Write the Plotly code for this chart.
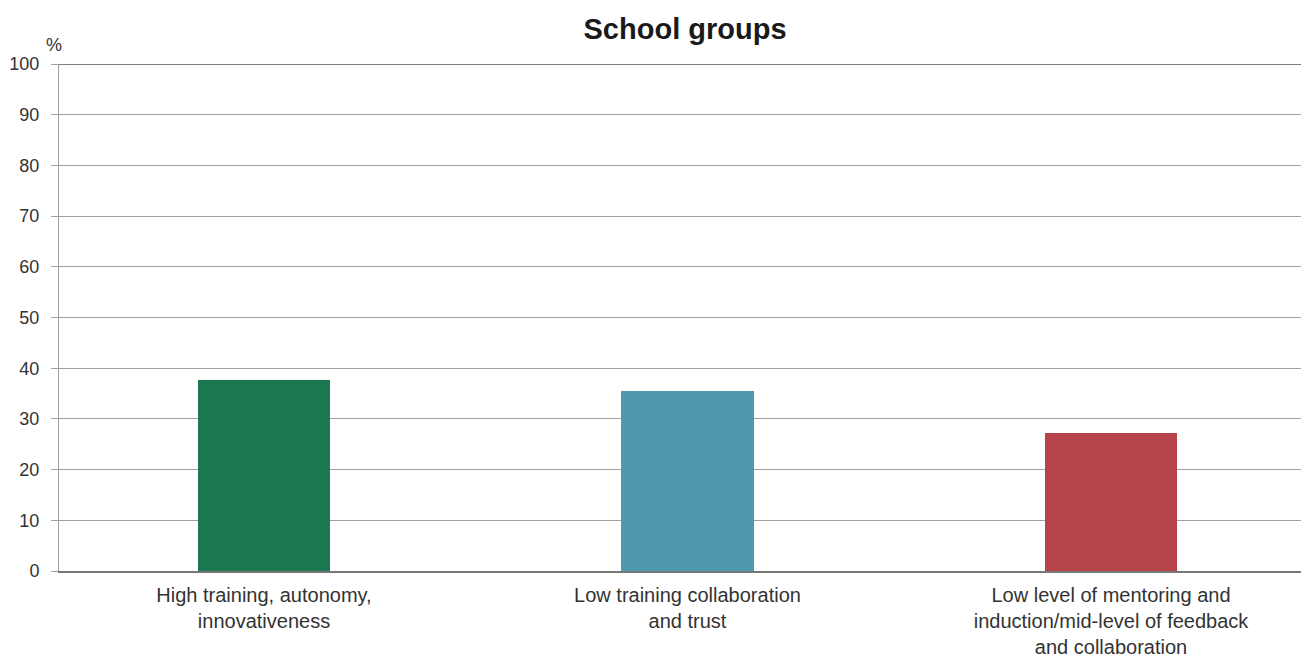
import plotly.graph_objects as go

categories = ["High training, autonomy,<br>innovativeness",
              "Low training collaboration<br>and trust",
              "Low level of mentoring and<br>induction/mid-level of feedback<br>and collaboration"]
values = [37.7, 35.5, 27.2]
colors = ["#1b7850", "#4e99ae", "#b5444a"]
y_ticks = [0, 10, 20, 30, 40, 50, 60, 70, 80, 90, 100]

fig = go.Figure()
fig.add_trace(go.Bar(x=categories, y=values, marker_color=colors, width=0.312,
                     marker_line_width=0, showlegend=False))

font_family = "Liberation Sans, Arial, sans-serif"
fig.update_layout(
    width=1301, height=651,
    margin=dict(l=51, r=0, t=56, b=88),
    paper_bgcolor="white", plot_bgcolor="white",
    font=dict(family=font_family, size=18, color="#333333"),
    title=dict(text="<b>School groups</b>", x=0.5204, xanchor="center", y=0.968, yanchor="middle",
               font=dict(size=29, color="#1a1a1a", family=font_family)),
    xaxis=dict(type="category", range=[-0.484, 2.4675], showgrid=False,
               showline=True, linecolor="#777777", linewidth=2, ticks="",
               ticklabelstandoff=5, automargin=False,
               tickfont=dict(size=20, color="#333333")),
    yaxis=dict(range=[0, 100], tickvals=y_ticks, showgrid=True, gridcolor="#a0a0a0",
               gridwidth=1, zeroline=False, showline=True, linecolor="#a0a0a0", linewidth=1,
               ticks="outside", ticklen=7, tickcolor="#a0a0a0", ticklabelstandoff=8,
               automargin=False,
               tickfont=dict(size=18, color="#333333")),
    bargap=0,
)
fig.add_shape(type="line", xref="paper", yref="y", x0=0, x1=1, y0=100, y1=100,
              line=dict(color="#555555", width=1.5))
fig.add_annotation(text="%", xref="paper", yref="paper", x=-0.004, y=1.0, yshift=19,
                   xanchor="center", yanchor="middle", showarrow=False,
                   font=dict(size=18, color="#333333"))
fig.write_html("out.html")
